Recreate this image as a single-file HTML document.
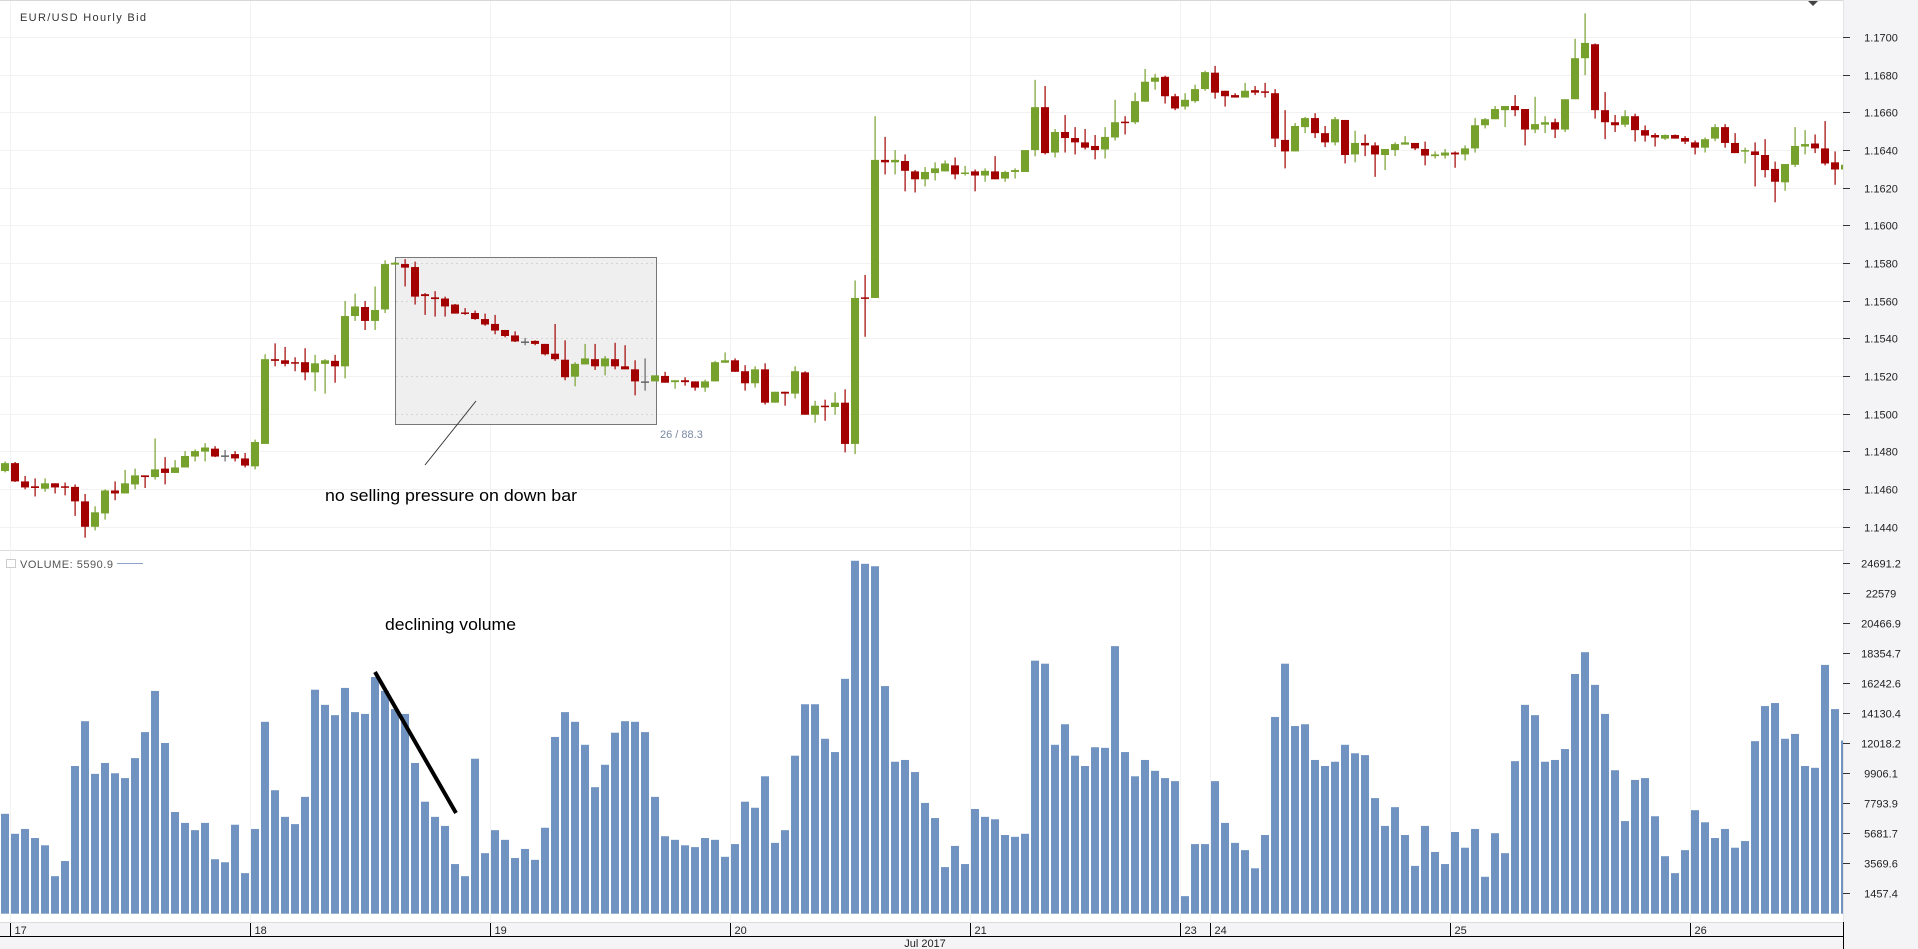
<!DOCTYPE html>
<html><head><meta charset="utf-8"><style>
html,body{margin:0;padding:0;background:#f4f4f6;}
svg{display:block;font-family:"Liberation Sans",sans-serif;}
</style></head><body>
<svg id="chart" width="1918" height="949" viewBox="0 0 1918 949" xmlns="http://www.w3.org/2000/svg">
<rect x="0" y="0" width="1918" height="949" fill="#f4f4f6"/>
<rect x="0" y="1" width="1843" height="549" fill="#ffffff"/>
<rect x="0" y="551" width="1843" height="371" fill="#ffffff"/>
<line x1="0" y1="0.5" x2="1843" y2="0.5" stroke="#d8d8d8"/>
<line x1="0" y1="550.5" x2="1843" y2="550.5" stroke="#dcdcdc"/>
<line x1="0" y1="922.5" x2="1843" y2="922.5" stroke="#dcdcdc"/>
<line x1="0" y1="936.5" x2="1843" y2="936.5" stroke="#000"/>
<line x1="1843.5" y1="922" x2="1843.5" y2="949" stroke="#000"/>
<line x1="1843.5" y1="0" x2="1843.5" y2="922" stroke="#e4e4e4"/>
<g id="grid"></g>
<g id="annot-box">
<rect x="395.5" y="257.5" width="261" height="167" fill="#efefef" stroke="#777"/>
</g>
<g id="candles"></g>
<g id="vols"></g>
<g id="axes"></g>
<text x="20" y="21" font-size="11" fill="#333" textLength="126">EUR/USD  Hourly Bid</text>
<path d="M1808 1 L1818 1 L1813 6 Z" fill="#444"/>
<rect x="6.5" y="559.5" width="9" height="8" fill="#fff" stroke="#ccc"/>
<text x="20" y="568" font-size="11" fill="#555" textLength="93">VOLUME: 5590.9</text>
<line x1="117" y1="563.5" x2="143" y2="563.5" stroke="#8ea3c8"/>
<line x1="425" y1="465" x2="476" y2="401" stroke="#333" stroke-width="1"/>
<text x="660" y="438" font-size="11" fill="#7a8aa5">26 / 88.3</text>
<text x="325" y="501" font-size="17" fill="#000" textLength="252" lengthAdjust="spacingAndGlyphs">no selling pressure on down bar</text>
<text x="385" y="630" font-size="17" fill="#000" textLength="131" lengthAdjust="spacingAndGlyphs">declining volume</text>
<line x1="375" y1="672" x2="456" y2="813" stroke="#000" stroke-width="4"/>
<text x="925" y="947" font-size="11" fill="#222" text-anchor="middle">Jul 2017</text>
</svg>
<script>
const BASE = 1.14; // prices below given in pips above 1.1400
const openP=[69.5,73.7,64.0,61.4,60.1,63.0,61.4,61.1,53.4,39.9,47.0,59.2,57.6,62.4,67.2,66.3,70.8,68.5,71.4,77.2,79.8,81.4,77.8,78.5,76.2,72.0,83.9,128.9,128.3,127.3,127.3,121.9,126.4,128.0,125.1,151.8,156.6,149.2,155.3,179.1,179.4,177.8,163.4,161.7,161.1,157.9,153.7,153.4,150.2,147.6,144.4,141.5,138.3,138.6,137.0,131.8,128.6,119.6,126.1,128.9,125.1,128.9,125.1,123.5,117.1,117.1,120.0,116.7,117.7,117.1,113.8,117.1,127.0,128.3,122.5,116.1,123.5,105.8,111.6,110.6,121.9,99.4,104.2,103.5,105.8,83.9,161.7,161.4,234.7,233.4,234.1,228.6,224.4,227.7,228.6,231.8,227.3,228.6,226.4,228.6,224.8,228.3,228.3,239.9,262.7,238.6,249.5,246.3,244.0,242.1,240.2,246.6,255.0,254.7,265.6,276.2,278.8,268.5,263.0,265.9,272.3,281.0,271.4,269.1,267.8,271.7,271.1,270.1,245.3,239.2,252.1,256.9,248.9,244.0,255.9,237.6,243.7,242.4,237.3,239.9,242.8,243.7,240.5,236.7,237.0,238.6,237.6,240.8,253.1,256.3,261.1,263.3,261.7,250.8,253.4,254.7,250.8,266.9,288.7,296.1,261.1,254.7,253.4,257.9,250.5,247.9,246.0,247.9,246.3,244.0,241.2,246.0,252.1,243.7,239.2,239.2,237.3,229.9,222.8,232.1,241.8,243.4,240.8,233.4,229.6];
const highP=[74.6,74.3,66.9,65.6,65.6,63.0,63.4,62.4,57.3,50.8,59.8,64.0,70.1,70.8,67.2,86.8,76.9,75.3,80.1,81.0,84.3,82.7,80.7,80.1,79.1,86.2,131.5,137.3,135.4,129.9,134.7,131.2,128.9,131.2,159.8,163.7,159.8,167.5,181.4,180.7,182.0,180.7,164.0,165.0,162.1,158.2,156.0,154.7,153.1,152.4,144.4,143.7,140.2,138.9,137.0,147.6,138.9,127.3,137.0,137.0,130.6,137.6,136.3,128.3,129.3,120.3,122.2,117.7,119.3,117.1,118.0,128.0,132.5,129.3,125.7,125.1,126.7,111.6,111.6,125.1,122.5,106.8,107.4,111.3,112.9,170.7,173.6,257.9,246.9,239.9,237.6,229.3,230.9,233.4,234.4,236.0,231.5,229.6,230.2,236.7,228.9,230.2,239.9,277.2,273.9,251.1,258.5,252.1,251.1,247.9,252.1,266.6,257.9,270.4,283.0,280.4,279.4,269.8,270.1,274.6,282.0,284.6,271.4,270.1,275.6,273.9,275.6,272.3,261.1,254.3,257.5,259.5,252.7,257.5,255.9,250.2,248.2,244.0,240.5,244.0,247.3,243.7,244.4,239.2,240.5,239.2,242.4,256.9,256.9,263.3,263.3,269.1,261.7,268.2,257.9,256.6,266.9,299.0,312.5,296.5,270.7,258.5,261.1,259.2,253.0,248.9,248.2,248.2,247.3,245.0,246.6,253.7,253.7,248.9,241.2,244.0,245.7,233.8,232.5,252.1,250.5,248.2,255.3,239.2,231.2];
const lowP=[68.8,63.7,59.8,56.0,58.5,57.6,56.6,45.7,34.1,38.0,43.7,54.0,57.6,59.8,60.5,65.0,62.4,68.5,71.4,74.6,74.6,76.9,74.6,74.6,71.4,70.4,83.9,125.1,125.1,122.5,117.7,111.9,110.6,116.4,118.7,149.2,144.4,144.4,153.4,179.1,167.5,157.9,152.4,151.5,151.5,153.1,152.4,149.8,146.6,142.1,140.5,138.0,136.3,136.3,130.9,128.0,117.7,114.5,126.1,123.2,120.3,123.5,123.5,109.7,112.2,117.1,116.4,113.2,114.8,112.2,111.6,117.1,127.0,122.2,112.2,113.8,104.8,105.8,104.2,108.0,99.4,95.2,96.2,99.4,79.4,78.5,140.8,161.4,227.0,227.0,218.0,217.4,220.6,223.8,228.6,224.4,226.4,218.0,223.1,224.4,223.1,224.8,228.3,236.6,237.6,236.0,238.6,237.6,240.2,235.0,235.4,245.0,248.2,253.7,265.6,272.0,264.6,261.1,261.4,265.0,271.4,267.2,263.0,267.8,267.8,269.1,267.8,241.5,230.2,239.2,248.9,246.3,241.5,242.4,232.8,233.4,236.7,225.7,229.3,236.7,242.8,239.9,231.8,235.4,235.4,230.5,234.4,238.6,251.4,256.3,252.1,257.9,242.4,248.9,248.9,246.3,249.5,266.9,279.7,256.6,245.7,249.5,252.1,244.4,244.4,241.8,245.3,246.0,243.1,237.6,238.6,244.7,241.2,238.3,232.8,220.6,225.4,212.2,218.3,230.9,237.6,238.3,231.8,221.5,229.6];
const closeP=[73.7,64.0,60.8,60.5,63.0,60.8,60.8,53.4,39.9,47.6,59.2,57.6,63.0,67.2,66.3,70.4,68.5,71.4,77.5,80.1,82.0,77.2,77.8,76.2,72.4,84.9,128.9,128.0,126.4,126.7,121.9,126.7,128.3,125.1,151.8,156.9,149.2,155.0,179.4,180.1,177.5,162.1,162.4,160.8,156.9,153.1,153.1,150.2,147.3,144.1,141.2,138.3,138.3,137.0,131.5,128.9,119.3,126.4,129.3,125.1,129.3,125.1,123.5,117.1,117.1,120.3,116.4,117.7,116.7,113.8,117.1,127.3,128.3,122.2,116.1,123.5,105.8,111.6,110.6,122.5,99.4,104.2,103.5,105.8,83.9,161.4,161.1,234.7,233.4,234.7,228.9,224.4,228.3,230.2,232.8,227.0,228.0,226.4,228.9,224.4,228.3,229.3,239.9,262.7,238.3,249.5,246.3,244.0,241.2,239.9,246.9,254.7,254.3,265.9,276.2,278.4,268.5,262.0,266.6,272.3,281.3,270.4,268.5,267.8,271.4,270.4,270.4,246.0,239.2,252.7,256.9,248.9,244.0,256.3,237.3,243.7,242.4,237.6,240.5,243.1,244.0,240.8,237.0,237.6,238.6,237.6,240.8,253.1,256.3,261.7,263.3,261.1,250.8,253.7,254.7,250.8,266.9,288.7,296.8,261.1,254.7,253.1,257.9,250.5,247.6,246.6,247.9,246.0,244.4,241.2,245.7,252.1,243.7,238.3,239.9,237.3,229.3,223.1,232.5,242.1,243.1,240.8,232.8,229.6,232.1];
const volumes=[7032,5626,5967,5328,4816,2642,3708,10399,13553,9845,10612,9888,9547,10953,12786,15684,12019,7160,6393,5882,6393,3836,3623,6265,2856,5967,13511,8694,6819,6308,8226,15769,14704,13979,15897,14192,14065,16664,15684,14406,14065,10612,7885,6819,6180,3495,2642,10911,4262,5882,5200,3921,4560,3793,6052,12445,14192,13511,11891,8908,10485,12743,13553,13511,12786,8226,5455,5200,4816,4688,5328,5200,4006,4901,7885,7459,9675,4987,5882,11124,14747,14747,12317,11380,16537,24847,24634,24464,16025,10698,10825,9973,7799,6734,3282,4773,3495,7373,6819,6649,5541,5413,5626,17815,17602,11891,13340,11124,10399,11721,11678,18838,11380,9675,10825,10058,9547,9334,1236,4901,4901,9334,6393,4987,4475,3197,5541,13852,17602,13212,13340,10825,10399,10698,11891,11294,11166,8140,6180,7501,5541,3367,6180,4347,3495,5754,4646,5967,2600,5668,4262,10740,14704,13979,10698,10825,11593,16878,18412,16110,14065,10101,6521,9419,9547,6862,4049,2856,4475,7288,6436,5328,5967,4646,5114,12147,14619,14832,12317,12658,10399,10271,17517,14406,12189];
const priceTicks=[1.1700,1.1680,1.1660,1.1640,1.1620,1.1600,1.1580,1.1560,1.1540,1.1520,1.1500,1.1480,1.1460,1.1440];
const volTicks=["24691.2","22579","20466.9","18354.7","16242.6","14130.4","12018.2","9906.1","7793.9","5681.7","3569.6","1457.4"];
const dayLabels=["17","18","19","20","21","23","24","25","26"];
const dayStartBar=[1,25,49,73,97,118,121,145,169];

const NS="http://www.w3.org/2000/svg";
function yPrice(p){return 36.9+(1.1700-p)/0.002*37.67;}
function yPip(pip){return yPrice(BASE+pip/10000);}
function yVol(v){return 913.7-v/2112.2*30;}
function xBar(i){return 1+10*i;}
function mk(tag,attrs,parent){const e=document.createElementNS(NS,tag);for(const k in attrs)e.setAttribute(k,attrs[k]);parent.appendChild(e);return e;}

const grid=document.getElementById('grid'),cg=document.getElementById('candles'),vg=document.getElementById('vols'),ag=document.getElementById('axes');
priceTicks.forEach(function(p){
  const y=Math.round(yPrice(p))+0.5;
  const g=mk('line',{x1:0,y1:y,x2:1843,y2:y,stroke:'#f2f2f2'},grid);
  
  
  const t=mk('line',{x1:1843,y1:y,x2:1850,y2:y,stroke:'#333'},ag);
  
  
  const tx=mk('text',{x:1881,y:y+4,'font-size':11,fill:'#222','text-anchor':'middle'},ag);
  tx.textContent=p.toFixed(4);
  
  
});
volTicks.forEach(function(s){
  const y=Math.round(yVol(parseFloat(s)))+0.5;
  const t=mk('line',{x1:1843,y1:y,x2:1850,y2:y,stroke:'#333'},ag);
  
  
  const tx=mk('text',{x:1881,y:y+4,'font-size':11,fill:'#222','text-anchor':'middle'},ag);
  tx.textContent=s;
  
  
});
dayLabels.forEach(function(d,k){
  const x=xBar(dayStartBar[k])-0.5;
  const g=mk('line',{x1:x,y1:1,x2:x,y2:922,stroke:'#f2f2f2'},grid);
  
  
  const t=mk('line',{x1:x,y1:923,x2:x,y2:936,stroke:'#000'},ag);
  
  
  const tx=mk('text',{x:x+4,y:934,'font-size':11,fill:'#222'},ag);
  tx.textContent=d;
  
  
});
// dotted grid inside selection box
priceTicks.forEach(function(p){
  const y=Math.round(yPrice(p))+0.5;
  if(y>258&&y<424){
    const l=mk('line',{x1:396,y1:y,x2:656,y2:y,stroke:'#d4d4d4','stroke-dasharray':'2,3'},document.getElementById('annot-box'));
    
    
  }
});
for(let i=0;i<openP.length;i++){
  const o=openP[i],c=closeP[i],h=highP[i],l=lowP[i];
  const col=c>o?'#76a12d':(c<o?'#a30000':'#666');
  const x=xBar(i);
  const w=Math.min(8,1843-x);
  if(w<=0)continue;
  const g=mk('g',{},cg);
  
  
  if(x+4<1843){
    const wk=mk('rect',{x:x+3.5,y:yPip(h),width:1.2,height:Math.max(1,yPip(l)-yPip(h)),fill:col},g);
    
    
  }
  const top=yPip(Math.max(o,c)),bot=yPip(Math.min(o,c));
  const b=mk('rect',{x:x,y:top,width:w,height:Math.max(1.5,bot-top),fill:col},g);
  
  
  const v=volumes[i];
  const vb=mk('rect',{x:x,y:yVol(v),width:w,height:913.7-yVol(v),fill:'#7093c1'},vg);
  
  
}
</script>
</body></html>
